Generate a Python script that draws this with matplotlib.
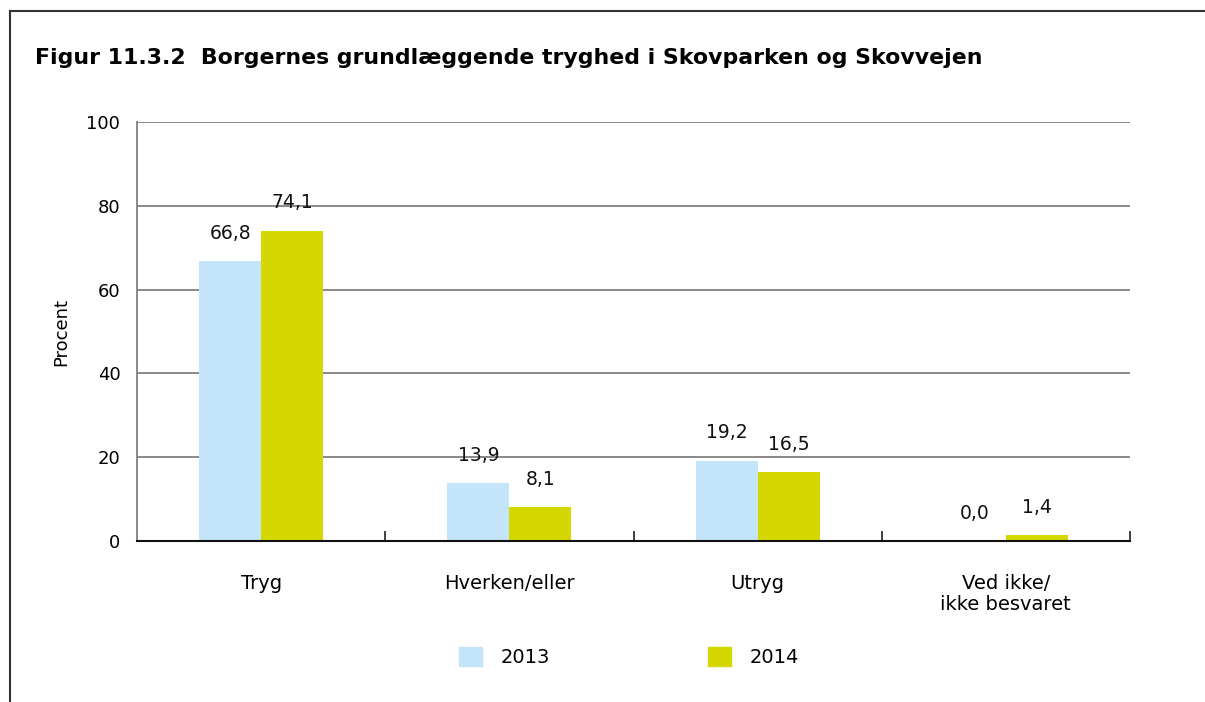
import matplotlib.pyplot as plt
import numpy as np
from matplotlib.lines import Line2D
from matplotlib.patches import Patch

categories = ["Tryg", "Hverken/eller", "Utryg", "Ved ikke/\nikke besvaret"]
years = ["2013", "2014"]
values_2013 = [66.8, 13.9, 19.2, 0.0]
values_2014 = [74.1, 8.1, 16.5, 1.4]
y_ticks = [0, 20, 40, 60, 80, 100]

title = "Figur 11.3.2  Borgernes grundlæggende tryghed i Skovparken og Skovvejen"
colors = ["#c4e5f9", "#d4d800"]

W, H = 1205, 702
fig = plt.figure(figsize=(W / 100, H / 100), dpi=100)
plt.rcParams["font.family"] = ["DejaVu Sans"]

# outer frame: top and left rules only
fig.add_artist(Line2D([10 / W, 1], [1 - 11 / H, 1 - 11 / H], color="#333333", lw=1.5))
fig.add_artist(Line2D([10 / W, 10 / W], [0, 1 - 11 / H], color="#333333", lw=1.5))

fig.text(35 / W, 1 - 64 / H, title, fontsize=15.8, fontweight="bold", va="baseline", ha="left")

ax = fig.add_axes([137 / W, 1 - 541 / H, 993 / W, 419 / H])

x = np.arange(len(categories))
width = 0.25
for i, (vals, year) in enumerate(zip([values_2013, values_2014], years)):
    pos = x + (i - 0.5) * width
    ax.bar(pos, vals, width, color=colors[i], label=year, zorder=2)
    for p, v in zip(pos, vals):
        ax.annotate(f"{v:.1f}".replace(".", ","), (p, v), xytext=(0, 13), textcoords="offset points",
                    ha="center", va="bottom", fontsize=13.5, color="#111111")

ax.set_xlim(-0.5, len(categories) - 0.5)
ax.set_ylim(0, 100)
ax.set_yticks(y_ticks)
ax.set_yticklabels([str(t) for t in y_ticks], fontsize=13)
ax.tick_params(axis="y", length=0, pad=12)
ax.yaxis.grid(True, color="#808080", lw=1.3, zorder=0)
ax.set_axisbelow(True)

ax.set_xticks(x)
ax.set_xticklabels(categories, fontsize=14, linespacing=1.1, va="top")
ax.tick_params(axis="x", which="major", length=0, pad=24)
ax.set_xticks(np.arange(len(categories)) + 0.5, minor=True)
ax.tick_params(axis="x", which="minor", direction="in", length=7, width=1.3, color="#333333")

for side in ["top", "right"]:
    ax.spines[side].set_visible(False)
ax.spines["left"].set_color("#808080")
ax.spines["left"].set_linewidth(1.3)
ax.spines["bottom"].set_color("#111111")
ax.spines["bottom"].set_linewidth(1.5)

ax.set_ylabel("Procent", fontsize=13, labelpad=12)

handles = [Patch(color=c, label=y) for c, y in zip(colors, years)]
fig.legend(handles=handles, loc="center", bbox_to_anchor=(629 / W, 1 - 657 / H), ncol=2, frameon=False,
           fontsize=14, handlelength=1.18, handleheight=1.18, handletextpad=0.95, columnspacing=8.1,
           borderpad=0)

fig.savefig("out.png", dpi=100)
